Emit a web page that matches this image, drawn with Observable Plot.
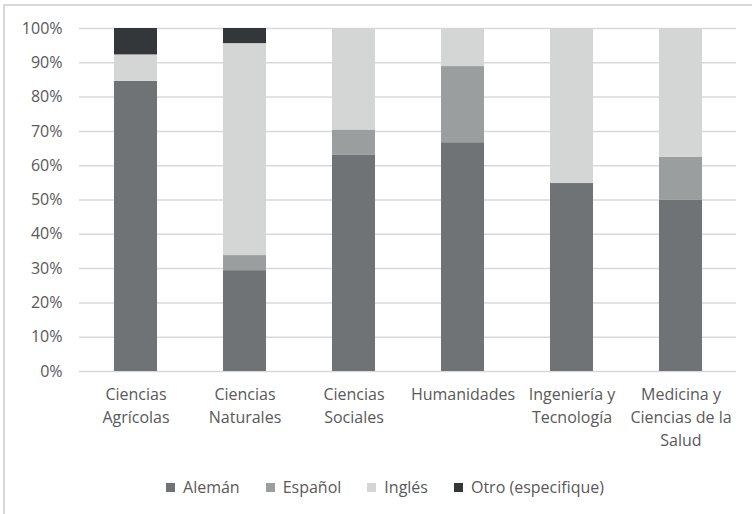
<!DOCTYPE html>
<html>
<head>
<meta charset="utf-8">
<script src="https://cdn.jsdelivr.net/npm/d3@7"></script>
<script src="https://cdn.jsdelivr.net/npm/@observablehq/plot@0.6"></script>
<style>
  html, body { margin: 0; padding: 0; background: #fff; }
  #wrap { position: relative; width: 752px; height: 514px; overflow: hidden; font-family: "Open Sans", sans-serif; }
  #frame { position: absolute; left: 3px; top: 4px; width: 800px; height: 600px; border-left: 2px solid #d9d9d9; border-top: 2px solid #d9d9d9; box-sizing: border-box; }
  #chart { position: absolute; left: 0; top: 0; }
  #legend { position: absolute; left: 0; top: 476px; width: 770px; display: flex; justify-content: center; gap: 26px; font-size: 16px; color: #595959; line-height: 22px; }
  .item { display: flex; align-items: center; gap: 8px; }
  .sw { width: 9px; height: 9px; display: inline-block; }
</style>
</head>
<body>
<div id="wrap">
  <div id="frame"></div>
  <div id="chart"></div>
  <div id="legend"></div>
</div>
<script>
const categories = ["Ciencias Agrícolas", "Ciencias Naturales", "Ciencias Sociales", "Humanidades", "Ingeniería y Tecnología", "Medicina y Ciencias de la Salud"];
const categoryLabels = ["Ciencias\nAgrícolas", "Ciencias\nNaturales", "Ciencias\nSociales", "Humanidades", "Ingeniería y\nTecnología", "Medicina y\nCiencias de la\nSalud"];
const languages = ["Alemán", "Español", "Inglés", "Otro (especifique)"];
const aleman  = [84.6, 29.4, 63.0, 66.7, 54.8, 50.0];
const espanol = [0.0, 4.4, 7.4, 22.2, 0.0, 12.5];
const ingles  = [7.7, 61.8, 29.6, 11.1, 45.2, 37.5];
const otro    = [7.7, 4.4, 0.0, 0.0, 0.0, 0.0];
const yTicks = [0, 0.1, 0.2, 0.3, 0.4, 0.5, 0.6, 0.7, 0.8, 0.9, 1.0];
const colors = ["#707375", "#9b9e9e", "#d4d5d5", "#33373a"];

const series = [aleman, espanol, ingles, otro];
const data = [];
categories.forEach((c, i) => {
  languages.forEach((l, j) => data.push({cat: c, lang: l, value: series[j][i]}));
});
const labelOf = new Map(categories.map((c, i) => [c, categoryLabels[i]]));

const chart = Plot.plot({
  width: 752,
  height: 470,
  marginTop: 28,
  marginBottom: 99,
  marginLeft: 79,
  marginRight: 16,
  style: {fontFamily: "Open Sans, sans-serif", fontSize: "16px", color: "#595959", background: "transparent"},
  x: {domain: categories, paddingInner: 0.607, paddingOuter: 0.303, label: null},
  y: {domain: [0, 1], label: null},
  color: {domain: languages, range: colors},
  marks: [
    Plot.ruleY(yTicks, {stroke: "#d9d9d9", strokeWidth: 1.5}),
    Plot.barY(data, Plot.stackY({offset: "normalize", order: languages}, {x: "cat", y: "value", fill: "lang", z: "lang"})),
    Plot.axisY(yTicks, {tickSize: 0, tickPadding: 17, tickFormat: d => Math.round(d * 100) + "%", fill: "#595959", fontSize: 16, label: null}),
    Plot.axisX({tickSize: 0, tickPadding: 12, tickFormat: d => labelOf.get(d), lineHeight: 1.44, fill: "#595959", fontSize: 16, label: null})
  ]
});
document.getElementById("chart").appendChild(chart);

const legend = document.getElementById("legend");
languages.forEach((l, j) => {
  const it = document.createElement("div");
  it.className = "item";
  const sw = document.createElement("span");
  sw.className = "sw";
  sw.style.background = colors[j];
  const t = document.createElement("span");
  t.textContent = l;
  it.appendChild(sw); it.appendChild(t);
  legend.appendChild(it);
});
</script>
</body>
</html>
